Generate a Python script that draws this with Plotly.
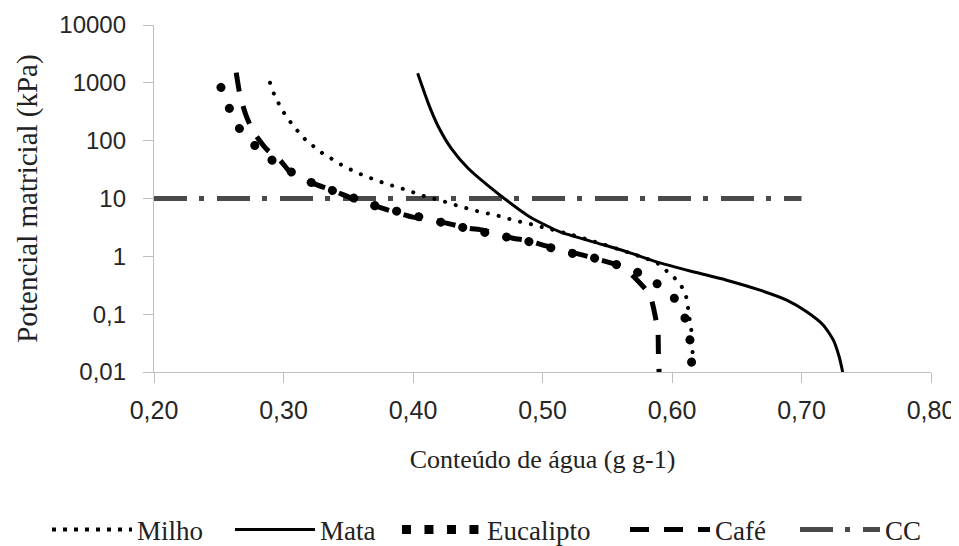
import plotly.graph_objects as go

# ---- data ----
milho_x = [0.2896, 0.2927, 0.2965, 0.3006, 0.3058, 0.3114, 0.3174, 0.3243, 0.3313, 0.3390,
           0.3467, 0.3544, 0.3624, 0.3701, 0.3784, 0.3874, 0.3951, 0.4041, 0.4126, 0.4208,
           0.4286, 0.4376, 0.4461, 0.4548, 0.4633, 0.4718, 0.4800, 0.4890, 0.4975, 0.5058,
           0.5200, 0.5400, 0.5600, 0.5750, 0.5880, 0.5958, 0.6023, 0.6083, 0.6113, 0.6126,
           0.6139, 0.6152, 0.6157, 0.6160, 0.6162]
milho_y = [1005, 640, 430, 297, 204, 143, 102, 76.5, 58, 46,
           36, 29.8, 24.7, 21.4, 18.2, 15.9, 14.0, 11.9, 10.3, 9.4,
           8.2, 7.2, 6.3, 5.7, 5.2, 4.6, 4.1, 3.7, 3.3, 2.96,
           2.45, 1.8, 1.3, 1.0, 0.78, 0.56, 0.415, 0.279, 0.187, 0.117,
           0.074, 0.047, 0.029, 0.018, 0.01]

mata_x = [0.4036, 0.4118, 0.4196, 0.4298, 0.4427, 0.4582, 0.4710, 0.4903, 0.5135, 0.5392,
          0.5650, 0.5907, 0.6165, 0.6422, 0.6680, 0.6886, 0.7040, 0.7169, 0.7246, 0.7292, 0.7318]
mata_y = [1460, 442, 174, 72, 33, 16.5, 9.8, 4.8, 2.65, 1.78,
          1.2, 0.77, 0.54, 0.387, 0.26, 0.175, 0.11, 0.0645, 0.0355, 0.018, 0.01]

eucalipto_x = [0.2517, 0.2582, 0.2659, 0.2782, 0.2917, 0.3071, 0.3230, 0.3385, 0.3552, 0.3707,
               0.3892, 0.4067, 0.4234, 0.4400, 0.4569, 0.4750, 0.4903, 0.5083, 0.5264, 0.5430,
               0.5586, 0.5753, 0.5900, 0.6036, 0.6108, 0.6144, 0.6152]
eucalipto_y = [836, 362, 163, 81, 45, 27.9, 18.2, 13.6, 10.0, 7.5,
               5.9, 4.7, 3.8, 3.1, 2.55, 2.09, 1.78, 1.37, 1.08, 0.90,
               0.70, 0.506, 0.318, 0.17, 0.0766, 0.030, 0.0123]

cafe_x = [0.2635, 0.2664, 0.2710, 0.2767, 0.2870, 0.2973, 0.3050, 0.3243, 0.3372, 0.3565,
          0.3780, 0.3990, 0.4193, 0.4425, 0.4540, 0.4772, 0.4880, 0.5004, 0.5158, 0.5313,
          0.5421, 0.5622, 0.5730, 0.5830, 0.5869, 0.5892, 0.5895, 0.5900]
cafe_y = [1500, 615, 277, 143, 71, 46, 29, 17.7, 14, 9.4,
          6.6, 4.8, 4.06, 3.07, 2.84, 2.06, 1.9, 1.56, 1.28, 1.05,
          0.90, 0.65, 0.39, 0.213, 0.096, 0.047, 0.021, 0.01]

cc_x = [0.20, 0.70]
cc_y = [10, 10]

x_ticks = [0.2, 0.3, 0.4, 0.5, 0.6, 0.7, 0.8]
x_ticktext = ["0,20", "0,30", "0,40", "0,50", "0,60", "0,70", "0,80"]
y_ticks = [0.01, 0.1, 1, 10, 100, 1000, 10000]
y_ticktext = ["0,01", "0,1", "1", "10", "100", "1000", "10000"]

SERIF = "Liberation Serif, Times New Roman, serif"
SANS = "Liberation Sans, Arial, sans-serif"

fig = go.Figure()
# CC drawn first (underneath the curves); each series has its own legend box
fig.add_trace(go.Scatter(x=cc_x, y=cc_y, mode="lines", name="CC", legend="legend5",
                         line=dict(color="#4a4a4a", width=5, dash="33px,12px,5px,13px")))
fig.add_trace(go.Scatter(x=milho_x, y=milho_y, mode="lines", name="Milho", legend="legend",
                         line=dict(color="black", width=4, dash="4px,7px", shape="spline", smoothing=0.6)))
fig.add_trace(go.Scatter(x=mata_x, y=mata_y, mode="lines", name="Mata", legend="legend2",
                         line=dict(color="black", width=3, shape="spline", smoothing=0.6)))
fig.add_trace(go.Scatter(x=eucalipto_x, y=eucalipto_y, mode="lines", name="Eucalipto", legend="legend3",
                         line=dict(color="black", width=9, dash="9px,13.5px", shape="spline", smoothing=0.6)))
fig.add_trace(go.Scatter(x=cafe_x, y=cafe_y, mode="lines", name="Café", legend="legend4",
                         line=dict(color="black", width=5, dash="19px,15px", shape="spline", smoothing=0.6)))

def leg(xpos):
    return dict(orientation="h", x=xpos, xanchor="left", y=-0.455, yanchor="middle",
                font=dict(family=SERIF, size=27, color="#222222"),
                itemwidth=80, bgcolor="rgba(0,0,0,0)")

# page body has an 8px margin, so the figure is sized/offset to land on the reference pixels
fig.update_layout(
    width=951, height=538,
    margin=dict(l=146, r=28, t=17, b=174, autoexpand=False),
    paper_bgcolor="white", plot_bgcolor="white",
    showlegend=True,
    legend=leg(-0.1377), legend2=leg(0.0978), legend3=leg(0.3127),
    legend4=leg(0.6062), legend5=leg(0.8250),
)
fig.update_xaxes(
    range=[0.2, 0.8], tickvals=x_ticks, ticktext=x_ticktext,
    showgrid=False, zeroline=False, showline=True, linecolor="#bfbfbf", linewidth=1.3,
    ticks="outside", ticklen=10, tickcolor="#bfbfbf", tickwidth=1.3,
    tickfont=dict(family=SANS, size=25, color="#262626"), ticklabelstandoff=6,
    title=dict(text="Conteúdo de água (g g-1)", font=dict(family=SERIF, size=26, color="#222222"), standoff=26),
)
fig.update_yaxes(
    type="log", range=[-2, 4], tickvals=y_ticks, ticktext=y_ticktext,
    showgrid=False, zeroline=False, showline=True, linecolor="#bfbfbf", linewidth=1.3,
    ticks="outside", ticklen=10, tickcolor="#bfbfbf", tickwidth=1.3,
    tickfont=dict(family=SANS, size=24, color="#262626"), ticklabelstandoff=12,
    title=dict(text="Potencial matricial (kPa)", font=dict(family=SERIF, size=29, color="#222222"), standoff=13),
)

post = """
try {
  var gd = document.getElementById('{plot_id}');
  var dots = {'Milho': '0.1,11', 'Eucalipto': '0.1,22.5'};
  var order = ['CC', 'Milho', 'Mata', 'Eucalipto', 'Café'];
  var setRound = function (p, d) {
    if (p.getAttribute('data-rnd') === d && p.style.strokeDasharray) return;
    p.style.strokeLinecap = 'round';
    p.style.strokeDasharray = d;
    p.setAttribute('stroke-linecap', 'round');
    p.setAttribute('data-rnd', d);
  };
  var fix = function () {
    try {
      var tr = gd.querySelectorAll('.scatterlayer g.trace');
      tr.forEach(function (g, i) {
        var d = dots[order[i]];
        if (d) g.querySelectorAll('path.js-line').forEach(function (p) { setRound(p, d); });
      });
    } catch (e) {}
  };
  fix();
  gd.on('plotly_afterplot', fix);
  setTimeout(fix, 0); setTimeout(fix, 350);
} catch (e) {}
"""

fig.write_html("out.html", post_script=post)
